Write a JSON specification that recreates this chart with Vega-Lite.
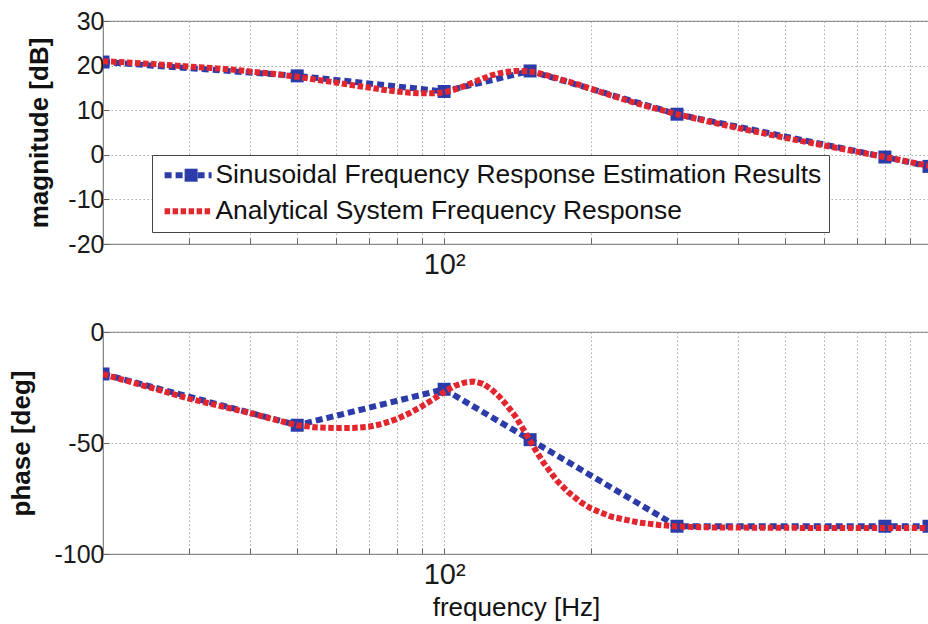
{
  "$schema": "https://vega.github.io/schema/vega-lite/v6.json",
  "background": "white",
  "padding": {"left": 7, "top": 8, "right": 0, "bottom": 0},
  "bounds": "flush",
  "spacing": 88,
  "datasets": {
    "est": [
      {"f": 20, "mag": 20.8, "phase": -18.9, "series": "Sinusoidal Frequency Response Estimation Results"},
      {"f": 50, "mag": 17.7, "phase": -42, "series": "Sinusoidal Frequency Response Estimation Results"},
      {"f": 100, "mag": 14.2, "phase": -25.8, "series": "Sinusoidal Frequency Response Estimation Results"},
      {"f": 150, "mag": 18.8, "phase": -48.5, "series": "Sinusoidal Frequency Response Estimation Results"},
      {"f": 300, "mag": 9.1, "phase": -87.5, "series": "Sinusoidal Frequency Response Estimation Results"},
      {"f": 800, "mag": -0.5, "phase": -87.5, "series": "Sinusoidal Frequency Response Estimation Results"},
      {"f": 985, "mag": -2.6, "phase": -87.5, "series": "Sinusoidal Frequency Response Estimation Results"}
    ],
    "ana": [
      {"f": 20, "mag": 21.0, "phase": -19, "series": "Analytical System Frequency Response"},
      {"f": 25, "mag": 20.4, "phase": -25, "series": "Analytical System Frequency Response"},
      {"f": 30, "mag": 19.8, "phase": -30, "series": "Analytical System Frequency Response"},
      {"f": 35, "mag": 19.3, "phase": -33.5, "series": "Analytical System Frequency Response"},
      {"f": 40, "mag": 18.7, "phase": -36.5, "series": "Analytical System Frequency Response"},
      {"f": 45, "mag": 18.1, "phase": -39.5, "series": "Analytical System Frequency Response"},
      {"f": 50, "mag": 17.5, "phase": -42, "series": "Analytical System Frequency Response"},
      {"f": 55, "mag": 16.8, "phase": -43, "series": "Analytical System Frequency Response"},
      {"f": 60, "mag": 16.2, "phase": -43.3, "series": "Analytical System Frequency Response"},
      {"f": 65, "mag": 15.6, "phase": -43.2, "series": "Analytical System Frequency Response"},
      {"f": 70, "mag": 15.1, "phase": -42.7, "series": "Analytical System Frequency Response"},
      {"f": 75, "mag": 14.6, "phase": -41.3, "series": "Analytical System Frequency Response"},
      {"f": 80, "mag": 14.2, "phase": -39.2, "series": "Analytical System Frequency Response"},
      {"f": 85, "mag": 13.9, "phase": -36.5, "series": "Analytical System Frequency Response"},
      {"f": 90, "mag": 13.8, "phase": -33.5, "series": "Analytical System Frequency Response"},
      {"f": 95, "mag": 13.8, "phase": -30.3, "series": "Analytical System Frequency Response"},
      {"f": 100, "mag": 14.0, "phase": -27, "series": "Analytical System Frequency Response"},
      {"f": 105, "mag": 14.6, "phase": -24.3, "series": "Analytical System Frequency Response"},
      {"f": 110, "mag": 15.4, "phase": -22.8, "series": "Analytical System Frequency Response"},
      {"f": 115, "mag": 16.3, "phase": -22.3, "series": "Analytical System Frequency Response"},
      {"f": 120, "mag": 17.1, "phase": -23.3, "series": "Analytical System Frequency Response"},
      {"f": 125, "mag": 17.8, "phase": -25.8, "series": "Analytical System Frequency Response"},
      {"f": 130, "mag": 18.3, "phase": -29.3, "series": "Analytical System Frequency Response"},
      {"f": 135, "mag": 18.6, "phase": -33.5, "series": "Analytical System Frequency Response"},
      {"f": 140, "mag": 18.8, "phase": -38, "series": "Analytical System Frequency Response"},
      {"f": 145, "mag": 18.8, "phase": -43.5, "series": "Analytical System Frequency Response"},
      {"f": 150, "mag": 18.7, "phase": -49, "series": "Analytical System Frequency Response"},
      {"f": 155, "mag": 18.4, "phase": -54.3, "series": "Analytical System Frequency Response"},
      {"f": 160, "mag": 18.0, "phase": -59, "series": "Analytical System Frequency Response"},
      {"f": 170, "mag": 17.2, "phase": -66.8, "series": "Analytical System Frequency Response"},
      {"f": 180, "mag": 16.4, "phase": -72.3, "series": "Analytical System Frequency Response"},
      {"f": 190, "mag": 15.6, "phase": -76.5, "series": "Analytical System Frequency Response"},
      {"f": 200, "mag": 14.8, "phase": -79.5, "series": "Analytical System Frequency Response"},
      {"f": 220, "mag": 13.3, "phase": -83.2, "series": "Analytical System Frequency Response"},
      {"f": 250, "mag": 11.4, "phase": -85.8, "series": "Analytical System Frequency Response"},
      {"f": 275, "mag": 10.2, "phase": -86.9, "series": "Analytical System Frequency Response"},
      {"f": 300, "mag": 9.1, "phase": -87.6, "series": "Analytical System Frequency Response"},
      {"f": 350, "mag": 7.4, "phase": -88, "series": "Analytical System Frequency Response"},
      {"f": 400, "mag": 6.0, "phase": -88.1, "series": "Analytical System Frequency Response"},
      {"f": 500, "mag": 3.8, "phase": -88.2, "series": "Analytical System Frequency Response"},
      {"f": 600, "mag": 2.1, "phase": -88.3, "series": "Analytical System Frequency Response"},
      {"f": 700, "mag": 0.7, "phase": -88.3, "series": "Analytical System Frequency Response"},
      {"f": 800, "mag": -0.5, "phase": -88.3, "series": "Analytical System Frequency Response"},
      {"f": 900, "mag": -1.6, "phase": -88.3, "series": "Analytical System Frequency Response"},
      {"f": 985, "mag": -2.5, "phase": -88.3, "series": "Analytical System Frequency Response"}
    ]
  },
  "vconcat": [
    {
      "width": 826,
      "height": 223,
      "layer": [
        {
          "data": {"name": "est"},
          "mark": {"type": "line", "strokeWidth": 6, "strokeCap": "butt", "clip": true},
          "encoding": {
            "x": {"field": "f", "type": "quantitative", "scale": {"type": "log", "domain": [20, 985], "nice": false},
              "axis": {"values": [20, 30, 40, 50, 60, 70, 80, 90, 100, 200, 300, 400, 500, 600, 700, 800, 900], "labelExpr": "datum.value == 100 ? '10²' : ''", "labelOverlap": false, "labelFlush": false, "labelFontSize": 29, "labelPadding": 12, "grid": true, "tickSize": -6, "title": null}},
            "y": {"field": "mag", "type": "quantitative", "scale": {"domain": [-20, 30], "nice": false},
              "axis": {"values": [-20, -10, 0, 10, 20, 30], "labelExpr": "'' + datum.value", "grid": true, "tickSize": -6, "labelPadding": 5, "title": "magnitude [dB]", "titleFontSize": 26, "titleFontWeight": "bold", "titleX": -64, "titleBaseline": "middle"}},
            "color": {"field": "series", "type": "nominal", "scale": {"domain": ["Sinusoidal Frequency Response Estimation Results", "Analytical System Frequency Response"], "range": ["#2b3ba8", "#e3262e"]},
              "legend": {"orient": "none", "legendX": 49, "legendY": 134, "title": null, "padding": 7, "rowPadding": 9, "labelFontSize": 26.4, "labelLimit": 900, "labelOffset": 30, "labelColor": "#111", "symbolType": "M-0.97,0H5.03", "symbolSize": 245, "symbolStrokeWidth": 6, "strokeColor": "#444", "fillColor": "white"}},
            "strokeDash": {"field": "series", "type": "nominal", "scale": {"domain": ["Sinusoidal Frequency Response Estimation Results", "Analytical System Frequency Response"], "range": [[7, 4], [5.5, 2.5]]},
              "legend": {"orient": "none", "legendX": 49, "legendY": 134, "title": null, "padding": 7, "rowPadding": 9, "labelFontSize": 26.4, "labelLimit": 900, "labelOffset": 30, "labelColor": "#111", "symbolType": "M-0.97,0H5.03", "symbolSize": 245, "symbolStrokeWidth": 6, "strokeColor": "#444", "fillColor": "white"}}
          }
        },
        {
          "data": {"name": "est"},
          "mark": {"type": "point", "filled": true, "size": 245, "color": "#2b3ba8", "opacity": 1, "clip": true},
          "encoding": {
            "x": {"field": "f", "type": "quantitative"},
            "y": {"field": "mag", "type": "quantitative"},
            "shape": {"field": "series", "type": "nominal", "scale": {"domain": ["Sinusoidal Frequency Response Estimation Results"], "range": ["M-0.83,-0.83H0.83V0.83H-0.83Z"]},
              "legend": {"orient": "none", "legendX": 49, "legendY": 134, "title": null, "padding": 7, "rowPadding": 9, "labelFontSize": 26.4, "labelLimit": 900, "labelOffset": 30, "labelExpr": "''", "symbolSize": 245, "symbolOffset": 18.9, "symbolStrokeWidth": 0, "symbolFillColor": "#2b3ba8"}}
          }
        },
        {
          "data": {"name": "ana"},
          "mark": {"type": "line", "strokeWidth": 6, "strokeCap": "butt", "clip": true},
          "encoding": {
            "x": {"field": "f", "type": "quantitative"},
            "y": {"field": "mag", "type": "quantitative"},
            "color": {"field": "series", "type": "nominal"},
            "strokeDash": {"field": "series", "type": "nominal"}
          }
        }
      ]
    },
    {
      "width": 826,
      "height": 222,
      "layer": [
        {
          "data": {"name": "est"},
          "mark": {"type": "line", "strokeWidth": 6, "strokeCap": "butt", "clip": true},
          "encoding": {
            "x": {"field": "f", "type": "quantitative", "scale": {"type": "log", "domain": [20, 985], "nice": false},
              "axis": {"values": [20, 30, 40, 50, 60, 70, 80, 90, 100, 200, 300, 400, 500, 600, 700, 800, 900], "labelExpr": "datum.value == 100 ? '10²' : ''", "labelOverlap": false, "labelFlush": false, "labelFontSize": 29, "labelPadding": 12, "grid": true, "tickSize": -6, "title": "frequency [Hz]", "titleFontSize": 26, "titleFontWeight": "normal", "titlePadding": 5}},
            "y": {"field": "phase", "type": "quantitative", "scale": {"domain": [-100, 0], "nice": false},
              "axis": {"values": [-100, -50, 0], "labelExpr": "'' + datum.value", "grid": true, "tickSize": -6, "labelPadding": 5, "title": "phase [deg]", "titleFontSize": 26, "titleFontWeight": "bold", "titleX": -82, "titleBaseline": "middle"}},
            "color": {"field": "series", "type": "nominal"},
            "strokeDash": {"field": "series", "type": "nominal"}
          }
        },
        {
          "data": {"name": "est"},
          "mark": {"type": "point", "filled": true, "size": 245, "color": "#2b3ba8", "opacity": 1, "clip": true},
          "encoding": {
            "x": {"field": "f", "type": "quantitative"},
            "y": {"field": "phase", "type": "quantitative"},
            "shape": {"field": "series", "type": "nominal"}
          }
        },
        {
          "data": {"name": "ana"},
          "mark": {"type": "line", "strokeWidth": 6, "strokeCap": "butt", "clip": true},
          "encoding": {
            "x": {"field": "f", "type": "quantitative"},
            "y": {"field": "phase", "type": "quantitative"},
            "color": {"field": "series", "type": "nominal"},
            "strokeDash": {"field": "series", "type": "nominal"}
          }
        }
      ]
    }
  ],
  "config": {
    "font": "Liberation Sans",
    "view": {"stroke": "#8a8a8a", "strokeWidth": 1.2},
    "axis": {"domainColor": "#8a8a8a", "tickColor": "#666666", "gridColor": "#a8a8a8", "gridDash": [1.5, 2.5], "gridOpacity": 1, "labelColor": "#1a1a1a", "titleColor": "#111111", "labelFontSize": 25, "labelFont": "Liberation Sans", "titleFont": "Liberation Sans"}
  }
}
